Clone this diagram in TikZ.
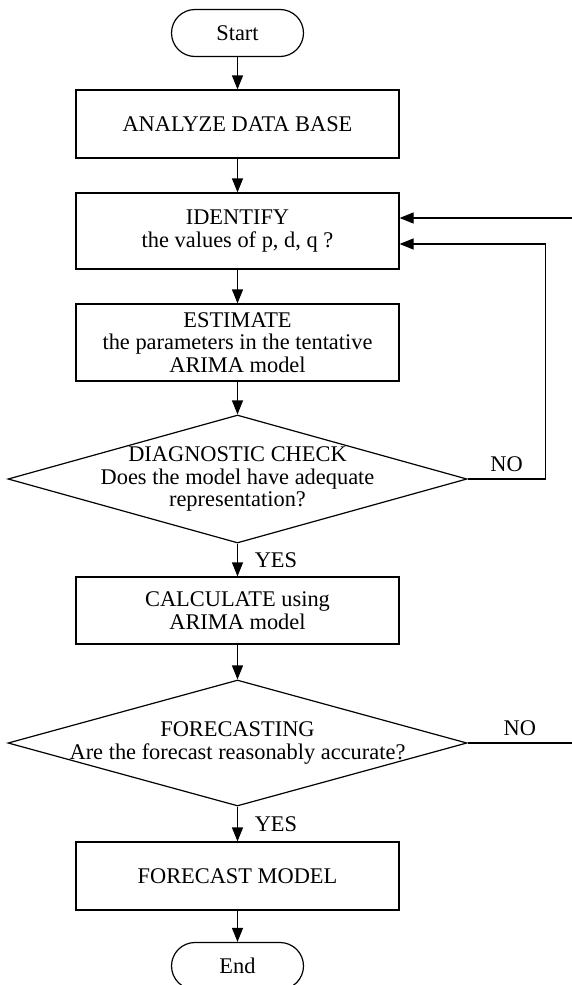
\documentclass[tikz,border=0pt]{standalone}
\usepackage{fontspec}
\setmainfont{Liberation Serif}
\usetikzlibrary{arrows.meta,shapes.geometric}

\begin{document}
\begin{tikzpicture}[x=0.5pt,y=-0.5pt,
  font=\fontsize{11.2}{11.3}\selectfont,
  box/.style={draw,line width=0.6pt,minimum width=161.5pt,align=center,inner sep=0pt},
  term/.style={draw,line width=0.6pt,minimum width=66pt,minimum height=23.5pt,rounded corners=11.75pt},
  decision/.style={draw,line width=0.6pt,diamond,minimum width=229.5pt,inner sep=0pt},
  arr/.style={line width=0.6pt,-{Triangle[length=7pt,width=5.5pt]}},
  link/.style={line width=0.6pt}]
  %% Centre line of the chart.
  \def\cx{237.5}
  %% x of the loop back to IDENTIFY.
  \def\loopx{545.5}

  %% Page size.
  \useasboundingbox (0,0) rectangle (572,985);

  %% The steps.
  \node[term] (start) at (\cx,33) {Start};
  \node[box,minimum height=34pt] (analyze) at (\cx,124) {ANALYZE DATA BASE};
  \node[box,minimum height=38pt] (identify) at (\cx,231) {IDENTIFY\\the values of p, d, q ?};
  \node[box,minimum height=38.5pt] (estimate) at (\cx,342.5) {ESTIMATE\\the parameters in the tentative\\ARIMA model};
  \node[decision,minimum height=64pt] (check) at (\cx,479) {};
  \node[align=center] (checktxt) at (check) {DIAGNOSTIC CHECK\\Does the model have adequate\\representation?};
  \node[box,minimum height=33.5pt] (calc) at (\cx,610.5) {CALCULATE using\\ARIMA model};
  \node[decision,minimum height=63pt] (fcast) at (\cx,743) {};
  \node[align=center] (fcasttxt) at (fcast) {FORECASTING\\Are the forecast reasonably accurate?};
  \node[box,minimum height=34pt] (model) at (\cx,876) {FORECAST MODEL};
  \node[term] (end) at (\cx,966) {End};

  %% Ends of the lines at the page edge.
  \coordinate (inA) at (572,218);
  \coordinate (outB) at (572,743);
  \coordinate (back) at (\loopx,244);

  %% Main flow.
  \draw[arr] (start) -- (analyze);
  \draw[arr] (analyze) -- (identify);
  \draw[arr] (identify) -- (estimate);
  \draw[arr] (estimate) -- (check.north);
  \draw[arr] (check.south) -- node[right=5pt] {YES} (calc);
  \draw[arr] (calc) -- (fcast.north);
  \draw[arr] (fcast.south) -- node[right=5pt] {YES} (model);
  \draw[arr] (model) -- (end);

  %% Loops.
  \draw[arr] (check.east) -- node[above] {NO} (check.east -| back) -- (back) -- (identify.east |- back);
  \draw[arr] (inA) -- (identify.east |- inA);
  \draw[link] (fcast.east) -- node[above] {NO} (outB);
\end{tikzpicture}
\end{document}
